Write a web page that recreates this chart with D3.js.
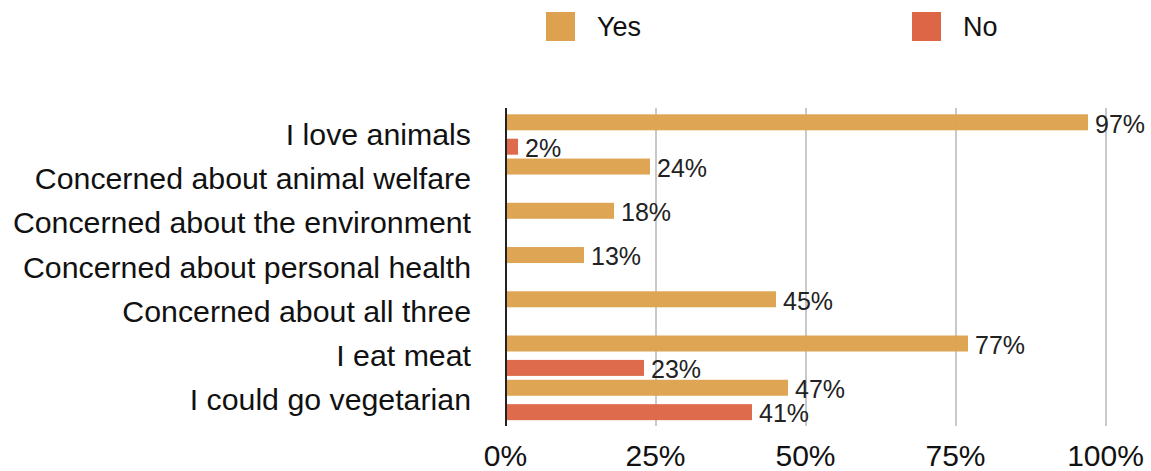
<!DOCTYPE html>
<html>
<head>
<meta charset="utf-8">
<script src="https://cdn.jsdelivr.net/npm/d3@7"></script>
<style>
  html, body { margin: 0; padding: 0; background: #fff; }
  svg { display: block; font-family: "Liberation Sans", Arial, Helvetica, sans-serif; }
</style>
</head>
<body>
<svg id="chart" width="1151" height="471"></svg>
<script>
const categories = [
  "I love animals",
  "Concerned about animal welfare",
  "Concerned about the environment",
  "Concerned about personal health",
  "Concerned about all three",
  "I eat meat",
  "I could go vegetarian"
];
const seriesNames = ["Yes", "No"];
const yesValues = [97, 24, 18, 13, 45, 77, 47];
const noValues  = [2, null, null, null, null, 23, 41];
const tickValues = [0, 25, 50, 75, 100];
const tickLabels = ["0%", "25%", "50%", "75%", "100%"];
const colors = { Yes: "#DDA24F", No: "#DC6646" };

const svg = d3.select("#chart");

const x = d3.scaleLinear().domain([0, 100]).range([506, 1106]);
const y = d3.scaleBand().domain(categories).range([112.2, 421.9]).paddingInner(0).paddingOuter(0);
const ySub = d3.scaleBand().domain(seriesNames).range([2.1, 42.5]).paddingInner(0.344).paddingOuter(0);

// gridlines
svg.append("g")
  .selectAll("line")
  .data(tickValues.filter(d => d > 0))
  .join("line")
  .attr("x1", d => x(d)).attr("x2", d => x(d))
  .attr("y1", 108).attr("y2", 426)
  .attr("stroke", "#c9c9c9")
  .attr("stroke-width", 2);

// bars
const rows = [];
categories.forEach((c, i) => {
  rows.push({ cat: c, s: "Yes", v: yesValues[i] });
  if (noValues[i] != null) rows.push({ cat: c, s: "No", v: noValues[i] });
});

svg.append("g")
  .selectAll("rect")
  .data(rows)
  .join("rect")
  .attr("x", x(0))
  .attr("y", d => y(d.cat) + ySub(d.s))
  .attr("width", d => x(d.v) - x(0))
  .attr("height", ySub.bandwidth())
  .attr("fill", d => colors[d.s])
  .attr("fill-opacity", 0.97);

// value labels
svg.append("g")
  .selectAll("text")
  .data(rows)
  .join("text")
  .attr("x", d => x(d.v) + 7)
  .attr("y", d => y(d.cat) + ySub(d.s) + ySub.bandwidth() / 2 + 1.5)
  .attr("dy", "0.35em")
  .attr("font-size", 25)
  .attr("fill", "#222")
  .text(d => d.v + "%");

// axis line
svg.append("line")
  .attr("x1", x(0)).attr("x2", x(0))
  .attr("y1", 108).attr("y2", 426)
  .attr("stroke", "#222")
  .attr("stroke-width", 2);

// category labels
svg.append("g")
  .selectAll("text")
  .data(categories)
  .join("text")
  .attr("x", 471)
  .attr("y", d => y(d) + y.bandwidth() / 2)
  .attr("dy", "0.35em")
  .attr("text-anchor", "end")
  .attr("font-size", 30.3)
  .attr("fill", "#111")
  .text(d => d);

// x axis tick labels
const xAxis = d3.axisBottom(x)
  .tickValues(tickValues)
  .tickFormat((d, i) => tickLabels[i])
  .tickSize(0)
  .tickPadding(0);
const gx = svg.append("g").attr("transform", "translate(-1,466)").call(xAxis);
gx.select(".domain").remove();
gx.selectAll("text")
  .attr("font-size", 30)
  .attr("font-family", "'Liberation Sans', Arial, sans-serif")
  .attr("fill", "#111")
  .attr("y", 0)
  .attr("dy", 0);

// legend
const legendPos = { Yes: 546, No: 912 };
const lg = svg.append("g")
  .selectAll("g")
  .data(seriesNames)
  .join("g")
  .attr("transform", d => `translate(${legendPos[d]},12)`);
lg.append("rect")
  .attr("width", 29).attr("height", 29)
  .attr("fill", d => colors[d]);
lg.append("text")
  .attr("x", 51).attr("y", 14.5)
  .attr("dy", "0.35em")
  .attr("font-size", 27)
  .attr("fill", "#111")
  .text(d => d);
</script>
</body>
</html>
